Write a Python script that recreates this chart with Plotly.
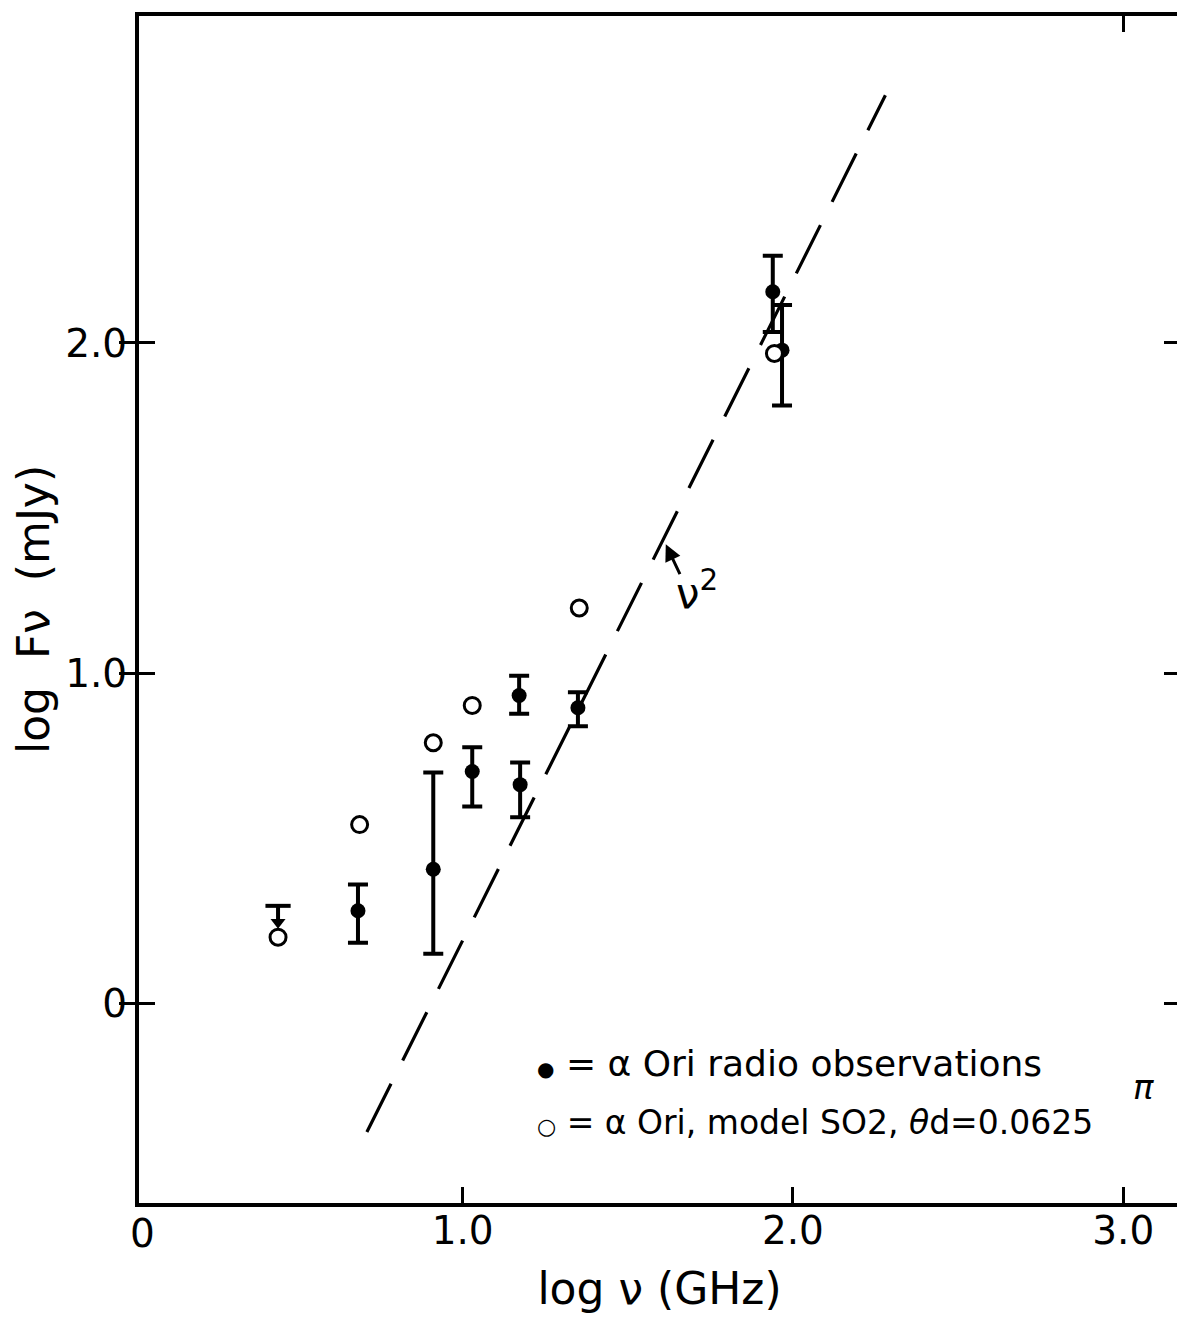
import plotly.graph_objects as go

# Observed radio fluxes (filled circles)
obs_x = [0.683, 0.911, 1.029, 1.171, 1.174, 1.349, 1.939, 1.967]
obs_y = [0.280, 0.406, 0.702, 0.932, 0.662, 0.895, 2.155, 1.978]
obs_hi = [0.360, 0.699, 0.775, 0.992, 0.729, 0.942, 2.264, 2.115]
obs_lo = [0.183, 0.150, 0.596, 0.877, 0.563, 0.839, 2.033, 1.810]

# Upper limit
lim_x = [0.441]
lim_y = [0.295]
lim_arrow_y = [0.245]

# Model SO2 (open circles)
mod_x = [0.441, 0.688, 0.911, 1.029, 1.353, 1.944]
mod_y = [0.200, 0.541, 0.789, 0.902, 1.197, 1.968]

# nu^2 line
nu2_x = [0.71, 2.28]
nu2_y = [-0.39, 2.75]

x_ticks = [1.0, 2.0, 3.0]
x_ticklabels = ["1.0", "2.0", "3.0"]
x_top_ticks = [3.0]
y_ticks = [0, 1.0, 2.0]
y_ticklabels = ["0", "1.0", "2.0"]

FONT = "DejaVu Sans"
fig = go.Figure()

fig.add_trace(go.Scatter(
    x=nu2_x, y=nu2_y, mode="lines", xaxis="x2", yaxis="y",
    line=dict(color="black", width=3.2, dash="54px,26px"),
    hoverinfo="skip", showlegend=False))

fig.add_trace(go.Scatter(
    x=obs_x, y=obs_y, mode="markers",
    marker=dict(color="black", size=15, symbol="circle"),
    error_y=dict(type="data", symmetric=False,
                 array=[h - v for h, v in zip(obs_hi, obs_y)],
                 arrayminus=[v - l for l, v in zip(obs_lo, obs_y)],
                 color="black", thickness=4, width=10),
    showlegend=False))

fig.add_trace(go.Scatter(
    x=mod_x, y=mod_y, mode="markers",
    marker=dict(color="white", size=16, symbol="circle",
                line=dict(color="black", width=3)),
    showlegend=False))

# upper limit: bar with downward arrow
fig.add_trace(go.Scatter(
    x=[lim_x[0], lim_x[0]], y=[lim_y[0], lim_arrow_y[0]], mode="lines",
    line=dict(color="black", width=4), showlegend=False))
fig.add_trace(go.Scatter(
    x=lim_x, y=lim_y, mode="markers",
    marker=dict(symbol="line-ew", size=18, line=dict(color="black", width=4)),
    showlegend=False))
fig.add_trace(go.Scatter(
    x=lim_x, y=lim_arrow_y, mode="markers",
    marker=dict(symbol="triangle-down", size=13, color="black"),
    showlegend=False))

common = dict(showline=True, linecolor="black", linewidth=4,
              ticks="inside", ticklen=16, tickwidth=3, tickcolor="black",
              showgrid=False, zeroline=False)

fig.update_layout(
    xaxis=dict(range=[0.02, 3.172], tickvals=x_ticks, ticktext=x_ticklabels,
               mirror=True, ticklabelstandoff=-10,
               tickfont=dict(family=FONT, size=39, color="black"),
               title=dict(text="log ν (GHz)",
                          font=dict(family=FONT, size=44, color="black"),
                          standoff=22),
               **common),
    xaxis2=dict(overlaying="x", side="top", matches="x",
                tickvals=x_top_ticks, showticklabels=False, **common),
    yaxis=dict(range=[-0.605, 2.99], tickvals=y_ticks, ticktext=y_ticklabels,
               mirror="allticks",
               tickfont=dict(family=FONT, size=39, color="black"),
               title=dict(text="log  Fν  (mJy)",
                          font=dict(family=FONT, size=44, color="black"),
                          standoff=14),
               **common),
)

# origin label of the x axis
fig.add_annotation(x=0.03, y=0, xref="x", yref="paper", yanchor="top",
                   yshift=-6, text="0", showarrow=False,
                   font=dict(family=FONT, size=39, color="black"))

# nu^2 label and arrow
fig.add_annotation(x=1.615, y=1.39, ax=1.66, ay=1.295, axref="x", ayref="y",
                   xref="x", yref="y", text="", showarrow=True,
                   arrowhead=2, arrowsize=1.1, arrowwidth=3, arrowcolor="black")
fig.add_annotation(x=1.71, y=1.25, xref="x", yref="y", text="ν<sup>2</sup>",
                   showarrow=False, font=dict(family=FONT, size=42, color="black"))

# key text
fig.add_annotation(x=1.22, y=-0.182, xref="x", yref="y", xanchor="left",
                   text="<span style='font-size:20px'>●</span> = α Ori radio observations",
                   showarrow=False,
                   font=dict(family=FONT, size=36, color="black"))
fig.add_annotation(x=1.22, y=-0.362, xref="x", yref="y", xanchor="left",
                   text="<span style='font-size:22px'>○</span> = α Ori, model SO2, <i>θ</i>d=0.0625",
                   showarrow=False,
                   font=dict(family=FONT, size=33, color="black"))
fig.add_annotation(x=3.06, y=-0.255, xref="x", yref="y",
                   text="<i>π</i>", showarrow=False,
                   font=dict(family=FONT, size=34, color="black"))

fig.update_layout(
    width=1180, height=1310,
    margin=dict(l=131, r=4, t=4, b=115),
    paper_bgcolor="white", plot_bgcolor="white",
    font=dict(family=FONT, color="black"),
)

fig.write_html("out.html")
